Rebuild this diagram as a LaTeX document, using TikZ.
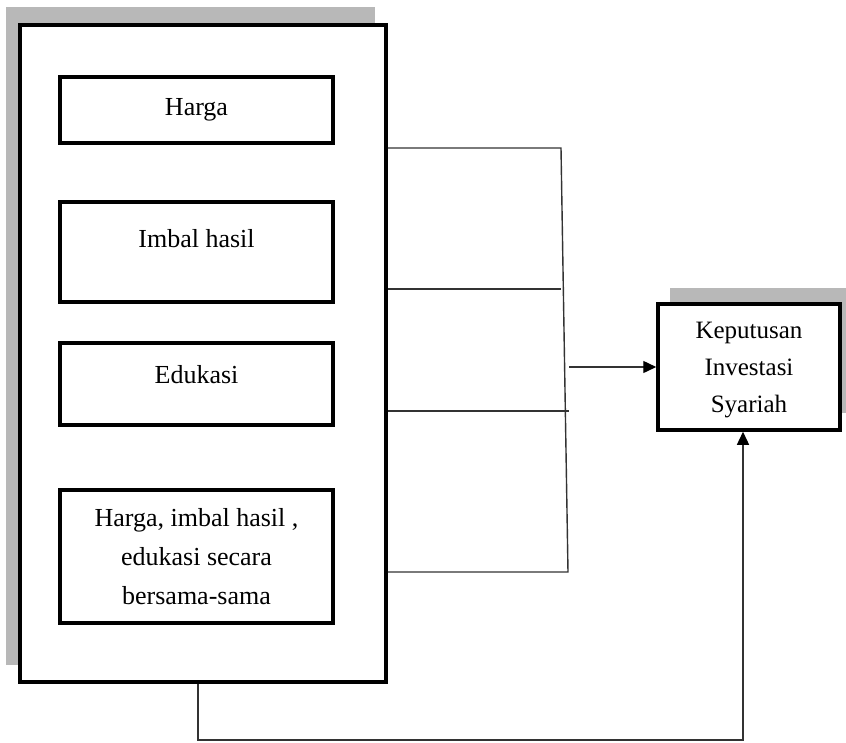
\documentclass[tikz,border=0pt]{standalone}
\usepackage{fontspec}
\setmainfont{Liberation Serif}
\usetikzlibrary{arrows.meta,positioning}
\tikzset{
  kotak/.style={draw,line width=3.5pt,fill=white,align=center,inner sep=0pt,
    font=\fontsize{26}{39}\selectfont},
  bayang/.style={fill=black!28},
  garis/.style={draw=black!80,line width=1.4pt},
  panah/.style={garis,-{Triangle[length=13pt,width=12pt,color=black]}}
}
\begin{document}
\begin{tikzpicture}[x=1pt,y=-1pt]
    \useasboundingbox (0,0) rectangle (846,742);
% bayangan
    \fill[bayang] (6,7) rectangle (375,665);
    \fill[bayang] (670,288) rectangle (846,413);
% kotak variabel X
    \node[kotak,minimum width=366,minimum height=657] (luar) at (203,353.5) {};
    \node[kotak,minimum width=273,minimum height=66] (harga) at (196.5,110) {Harga};
    \node[kotak,minimum width=273,minimum height=100,text height=18pt,text depth=28pt]
        (imbal) at (196.5,252) {Imbal hasil};
    \node[kotak,minimum width=273,minimum height=82,text height=18pt,text depth=20pt]
        (edukasi) at (196.5,384) {Edukasi};
    \node[kotak,minimum width=273,minimum height=133] (bersama) at (196.5,556.5)
        {Harga, imbal hasil ,\\ edukasi secara\\ bersama-sama};
% kotak variabel Y
    \node[kotak,minimum width=182,minimum height=126,text depth=0pt,
        font=\fontsize{25}{37}\selectfont]
        (keputusan) at (749,367) {Keputusan\\ Investasi\\ Syariah};
% garis penghubung
    \coordinate (s1) at (561,148);
    \coordinate (s2) at (561,289);
    \coordinate (s3) at (569,411);
    \coordinate (s4) at (568,572);
    \coordinate (m) at (569,367);
    \draw[garis] (luar.east |- s1) -- (s1) -- (s4) -- (luar.east |- s4);
    \draw[garis] (luar.east |- s2) -- (s2);
    \draw[garis] (luar.east |- s3) -- (s3);
    \draw[panah] (m) -- (keputusan.west |- m);
%
    \coordinate (b1) at (198,740);
    \coordinate (b2) at (743,740);
    \draw[panah] (luar.south -| b1) -- (b1) -- (b2) -- (b2 |- keputusan.south);
\end{tikzpicture}
\end{document}
